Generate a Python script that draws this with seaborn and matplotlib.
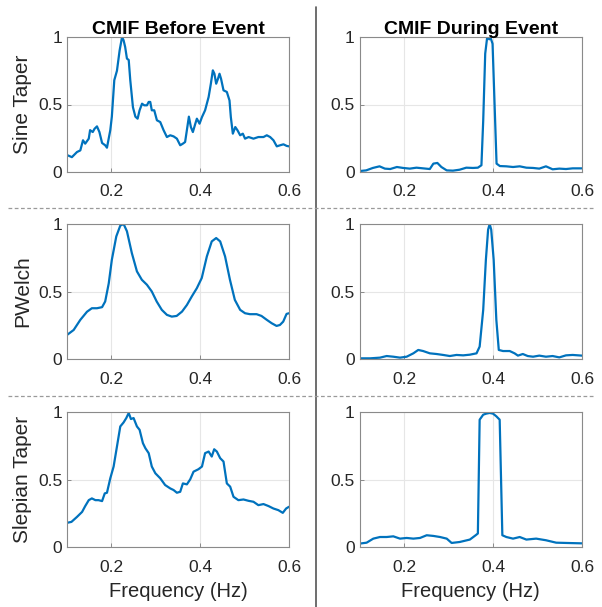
import numpy as np
import pandas as pd
import matplotlib
matplotlib.use("Agg")
import matplotlib.pyplot as plt
import seaborn as sns
from matplotlib.lines import Line2D

# ---------------- data ----------------
sine_before_f = [0.102, 0.111, 0.1225, 0.13, 0.136, 0.141, 0.149, 0.152, 0.158, 0.162, 0.1675, 0.173, 0.179, 0.186, 0.19,
                 0.1975, 0.201, 0.2065, 0.2125, 0.2185, 0.224, 0.2275, 0.231, 0.235, 0.239, 0.2425, 0.2485, 0.254, 0.259,
                 0.2635, 0.269, 0.274, 0.28, 0.284, 0.2875, 0.291, 0.2965, 0.3025, 0.31, 0.3175, 0.325, 0.3325, 0.34,
                 0.3475, 0.355, 0.361, 0.366, 0.37, 0.3745, 0.379, 0.3835, 0.389, 0.3925, 0.3985, 0.404, 0.411, 0.419,
                 0.424, 0.4285, 0.432, 0.436, 0.44, 0.4435, 0.447, 0.4525, 0.46, 0.466, 0.469, 0.4735, 0.479, 0.484,
                 0.49, 0.496, 0.501, 0.509, 0.52, 0.531, 0.5425, 0.55, 0.5575, 0.565, 0.5725, 0.58, 0.5875, 0.595, 0.6]
sine_before_v = [0.123, 0.11, 0.148, 0.16, 0.235, 0.21, 0.247, 0.31, 0.296, 0.32, 0.338, 0.296, 0.215, 0.198, 0.18,
                 0.31, 0.41, 0.68, 0.75, 0.9, 1.0, 0.975, 0.926, 0.84, 0.83, 0.68, 0.48, 0.41, 0.395,
                 0.457, 0.506, 0.494, 0.494, 0.519, 0.519, 0.457, 0.457, 0.383, 0.37, 0.31, 0.259, 0.272, 0.264,
                 0.247, 0.198, 0.21, 0.222, 0.31, 0.41, 0.333, 0.296, 0.358, 0.395, 0.358, 0.407, 0.457, 0.556,
                 0.654, 0.753, 0.728, 0.654, 0.69, 0.728, 0.69, 0.605, 0.593, 0.53, 0.407, 0.284, 0.333, 0.309,
                 0.272, 0.284, 0.247, 0.259, 0.247, 0.259, 0.259, 0.272, 0.259, 0.235, 0.19, 0.198, 0.205, 0.193, 0.19]

sine_during_f = [0.1, 0.115, 0.13, 0.145, 0.157, 0.169, 0.184, 0.198, 0.213, 0.228, 0.243, 0.258, 0.266, 0.275, 0.284,
                 0.296, 0.31, 0.325, 0.34, 0.355, 0.366, 0.374, 0.378, 0.3825, 0.387, 0.3915, 0.394, 0.399, 0.4035,
                 0.408, 0.4155, 0.43, 0.445, 0.46, 0.475, 0.49, 0.504, 0.519, 0.534, 0.549, 0.564, 0.579, 0.6]
sine_during_v = [0.007, 0.012, 0.03, 0.042, 0.025, 0.022, 0.037, 0.03, 0.025, 0.032, 0.027, 0.022, 0.062, 0.067, 0.037,
                 0.012, 0.01, 0.017, 0.032, 0.03, 0.032, 0.05, 0.38, 0.877, 1.0, 0.983, 1.0, 0.95, 0.506,
                 0.062, 0.044, 0.042, 0.037, 0.042, 0.032, 0.03, 0.025, 0.042, 0.02, 0.025, 0.022, 0.027, 0.027]

welch_before_f = [0.1, 0.115, 0.13, 0.145, 0.156, 0.1675, 0.179, 0.186, 0.194, 0.201, 0.211, 0.22, 0.2275, 0.235,
                  0.246, 0.2575, 0.2685, 0.28, 0.291, 0.302, 0.3135, 0.325, 0.336, 0.347, 0.359, 0.37, 0.381, 0.3925,
                  0.4035, 0.415, 0.426, 0.436, 0.445, 0.456, 0.467, 0.478, 0.49, 0.501, 0.512, 0.527, 0.538, 0.55,
                  0.561, 0.572, 0.5795, 0.587, 0.5945, 0.6]
welch_before_v = [0.178, 0.215, 0.29, 0.35, 0.376, 0.376, 0.384, 0.426, 0.56, 0.735, 0.908, 0.988, 1.0, 0.946,
                  0.785, 0.649, 0.587, 0.55, 0.5, 0.426, 0.364, 0.327, 0.314, 0.319, 0.351, 0.4, 0.463, 0.525,
                  0.6, 0.76, 0.871, 0.896, 0.871, 0.76, 0.587, 0.438, 0.364, 0.339, 0.332, 0.332, 0.319, 0.29,
                  0.265, 0.245, 0.252, 0.277, 0.334, 0.339]

welch_during_f = [0.1, 0.124, 0.146, 0.161, 0.176, 0.191, 0.206, 0.221, 0.232, 0.243, 0.258, 0.273, 0.288, 0.303,
                  0.318, 0.333, 0.348, 0.363, 0.37, 0.378, 0.384, 0.389, 0.3925, 0.396, 0.4015, 0.4075, 0.413,
                  0.4225, 0.4375, 0.4485, 0.456, 0.467, 0.478, 0.49, 0.504, 0.519, 0.534, 0.549, 0.564, 0.579, 0.6]
welch_during_v = [0.005, 0.005, 0.01, 0.022, 0.017, 0.01, 0.017, 0.042, 0.067, 0.059, 0.042, 0.037, 0.03, 0.022,
                  0.03, 0.027, 0.032, 0.042, 0.092, 0.364, 0.735, 0.958, 1.0, 0.958, 0.735, 0.29, 0.067,
                  0.059, 0.059, 0.042, 0.025, 0.037, 0.022, 0.017, 0.025, 0.017, 0.022, 0.012, 0.027, 0.03, 0.025]

slep_before_f = [0.1, 0.11, 0.1225, 0.134, 0.141, 0.149, 0.156, 0.164, 0.171, 0.179, 0.185, 0.19, 0.1975, 0.205,
                 0.2125, 0.22, 0.2275, 0.2335, 0.239, 0.244, 0.25, 0.2575, 0.2635, 0.271, 0.2765, 0.284, 0.291,
                 0.299, 0.31, 0.321, 0.3325, 0.34, 0.3475, 0.355, 0.361, 0.37, 0.3775, 0.385, 0.396, 0.404, 0.411,
                 0.419, 0.426, 0.4315, 0.4375, 0.445, 0.4525, 0.46, 0.4675, 0.475, 0.486, 0.4975, 0.509, 0.52,
                 0.531, 0.5425, 0.554, 0.565, 0.576, 0.586, 0.5935, 0.6]
slep_before_v = [0.179, 0.186, 0.223, 0.26, 0.303, 0.347, 0.36, 0.347, 0.347, 0.34, 0.397, 0.402, 0.509, 0.596,
                 0.744, 0.893, 0.923, 0.955, 0.993, 0.948, 0.955, 0.893, 0.868, 0.769, 0.732, 0.695, 0.596,
                 0.546, 0.509, 0.459, 0.434, 0.422, 0.402, 0.409, 0.471, 0.464, 0.501, 0.558, 0.576, 0.596, 0.695,
                 0.707, 0.67, 0.724, 0.707, 0.658, 0.633, 0.471, 0.447, 0.372, 0.347, 0.352, 0.342, 0.335,
                 0.31, 0.318, 0.303, 0.285, 0.273, 0.253, 0.285, 0.298]

slep_during_f = [0.1, 0.116, 0.131, 0.146, 0.161, 0.176, 0.191, 0.206, 0.221, 0.236, 0.251, 0.266, 0.281, 0.296,
                 0.307, 0.325, 0.348, 0.361, 0.366, 0.37, 0.378, 0.385, 0.3925, 0.4, 0.4075, 0.415, 0.421, 0.43,
                 0.445, 0.46, 0.475, 0.497, 0.519, 0.542, 0.564, 0.6]
slep_during_v = [0.025, 0.032, 0.062, 0.074, 0.074, 0.079, 0.062, 0.067, 0.062, 0.067, 0.087, 0.082, 0.074, 0.062,
                 0.03, 0.037, 0.055, 0.087, 0.1, 0.943, 0.98, 0.988, 0.993, 0.988, 0.968, 0.943, 0.087, 0.074,
                 0.062, 0.074, 0.055, 0.062, 0.05, 0.032, 0.03, 0.027]

row_labels = ["Sine Taper", "PWelch", "Slepian Taper"]
col_titles = ["CMIF Before Event", "CMIF During Event"]
x_ticks = [0.2, 0.4, 0.6]
x_ticklabels = ["0.2", "0.4", "0.6"]
y_ticks = [0, 0.5, 1]
y_ticklabels = ["0", "0.5", "1"]
x_label = "Frequency (Hz)"

series = [
    [(sine_before_f, sine_before_v), (sine_during_f, sine_during_v)],
    [(welch_before_f, welch_before_v), (welch_during_f, welch_during_v)],
    [(slep_before_f, slep_before_v), (slep_during_f, slep_during_v)],
]

# ---------------- style ----------------
sns.set_theme(style="white")
plt.rcParams["font.family"] = ["Liberation Sans", "DejaVu Sans"]

W, H = 602, 607
fig = plt.figure(figsize=(W / 100, H / 100), dpi=100)

line_color = "#0072BD"
col_x = [67, 359.5]
col_w = [222, 222.5]
row_top = [37, 224, 412]
ax_h = 135

for r in range(3):
    for c in range(2):
        left = col_x[c] / W
        bottom = 1 - (row_top[r] + ax_h) / H
        ax = fig.add_axes([left, bottom, col_w[c] / W, ax_h / H])
        f, v = series[r][c]
        df = pd.DataFrame({"f": f, "v": v})
        sns.lineplot(data=df, x="f", y="v", ax=ax, color=line_color, linewidth=1.6, sort=False)
        ax.set_xlim(0.1, 0.6)
        ax.set_ylim(0, 1)
        ax.set_xticks(x_ticks)
        ax.set_xticklabels(x_ticklabels)
        ax.set_yticks(y_ticks)
        ax.set_yticklabels(y_ticklabels)
        ax.grid(True, color="#e6e6e6", linewidth=0.8)
        ax.set_axisbelow(True)
        for s in ax.spines.values():
            s.set_color("#8a8a8a")
            s.set_linewidth(0.8)
            s.set_visible(True)
        ax.tick_params(axis="both", direction="in", length=3, width=0.7, color="#8a8a8a",
                       labelsize=12.5, labelcolor="#262626", bottom=True, left=True)
        ax.tick_params(axis="x", pad=9)
        ax.tick_params(axis="y", pad=3.5)
        ax.set_ylabel(row_labels[r] if c == 0 else "", fontsize=15, color="#262626", labelpad=4)
        if r == 2:
            ax.set_xlabel(x_label, fontsize=14.5, color="#262626", labelpad=5.5)
        else:
            ax.set_xlabel("")
        if r == 0:
            ax.set_title(col_titles[c], fontsize=14, fontweight="bold", color="#000000", pad=2.5)

# separators
fig.add_artist(Line2D([316 / W, 316 / W], [0, 1 - 7 / H], transform=fig.transFigure,
                      color="#555555", linewidth=1.2))
for yy in [208, 396]:
    fig.add_artist(Line2D([8 / W, 1 - 8 / W], [1 - yy / H, 1 - yy / H], transform=fig.transFigure,
                          color="#9a9a9a", linewidth=0.9, linestyle=(0, (3, 2))))

fig.savefig("out.png", dpi=100, facecolor="white")
